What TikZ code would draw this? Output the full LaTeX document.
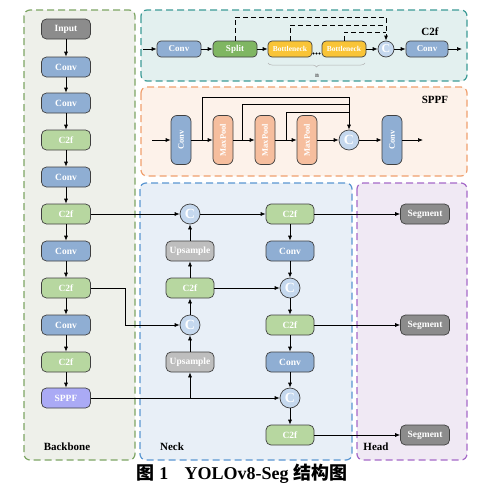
\documentclass[tikz,border=0pt]{standalone}
\usepackage{graphicx}
\usepackage{fontspec}
\setmainfont{Liberation Serif}
\newfontfamily\cjk{Noto Sans CJK SC}
\usetikzlibrary{arrows.meta,decorations.pathreplacing}
\definecolor{convc}{HTML}{8FAED3}
\definecolor{c2fc}{HTML}{B7D7A0}
\definecolor{splitc}{HTML}{7FB662}
\definecolor{bnc}{HTML}{F9C437}
\definecolor{mpc}{HTML}{F6BE9E}
\definecolor{sppfc}{HTML}{AAAAF5}
\definecolor{upc}{HTML}{BEBEBE}
\definecolor{grayc}{HTML}{8C8C8C}
\definecolor{catc}{HTML}{C5D8EE}
\definecolor{bbfill}{HTML}{EEF0EA}
\definecolor{bbline}{HTML}{7DA564}
\definecolor{cffill}{HTML}{E3F0EF}
\definecolor{cfline}{HTML}{3C9B96}
\definecolor{spfill}{HTML}{FDF2EA}
\definecolor{spline}{HTML}{F0A06E}
\definecolor{nkfill}{HTML}{E8EFF7}
\definecolor{nkline}{HTML}{5A96D2}
\definecolor{hdfill}{HTML}{F0E9F4}
\definecolor{hdline}{HTML}{A569C8}
\tikzset{
  blk/.style={draw=black!75, line width=0.7pt, rounded corners=5pt, minimum width=49pt, minimum height=20pt, inner sep=1pt, text=white, font=\bfseries\fontsize{9.5}{10}\selectfont},
  sm/.style={blk, minimum width=44pt, minimum height=16pt, rounded corners=4pt, font=\bfseries\fontsize{9}{9}\selectfont},
  vert/.style={blk, minimum width=20pt, minimum height=49pt, rounded corners=6pt, font=\bfseries\fontsize{8.5}{9}\selectfont},
  cat/.style={circle, draw=black!75, line width=0.7pt, fill=catc, minimum size=20pt, inner sep=0pt, text=white, font=\bfseries\fontsize{14}{14}\selectfont},
  arr/.style={-{Latex[length=5pt,width=4pt]}, line width=0.7pt},
  ln/.style={line width=0.7pt},
  dsh/.style={line width=0.9pt, dash pattern=on 5pt off 3pt},
  region/.style={rounded corners=6pt, line width=1.2pt, dash pattern=on 7pt off 4pt},
  lbl/.style={font=\bfseries\fontsize{11}{12}\selectfont, text=black},
}
\begin{document}
\begin{tikzpicture}[x=1pt,y=-1pt]
\useasboundingbox (0,0) rectangle (480,485);
\fill[white] (0,0) rectangle (480,485);
% regions
\draw[region, draw=bbline, fill=bbfill] (24,10) rectangle (135,460);
\draw[region, draw=cfline, fill=cffill] (141,10) rectangle (467,81);
\draw[region, draw=spline, fill=spfill] (141,87) rectangle (467,176);
\draw[region, draw=nkline, fill=nkfill] (140,183) rectangle (352,460);
\draw[region, draw=hdline, fill=hdfill] (357,183) rectangle (467,460);
% labels
\node[lbl] (lbb) at (67,447) {Backbone};
\node[lbl] (lnk) at (172,447) {Neck};
\node[lbl] (lhd) at (376,447) {Head};
\node[lbl] (lcf) at (430,32) {C2f};
\node[lbl] (lsp) at (435,100) {SPPF};
% backbone
\node[blk, fill=grayc] (b0) at (66,29) {Input};
\node[blk, fill=convc] (b1) at (66,67) {Conv};
\node[blk, fill=convc] (b2) at (66,103) {Conv};
\node[blk, fill=c2fc] (b3) at (66,140) {C2f};
\node[blk, fill=convc] (b4) at (66,177) {Conv};
\node[blk, fill=c2fc] (b5) at (66,214) {C2f};
\node[blk, fill=convc] (b6) at (66,251) {Conv};
\node[blk, fill=c2fc] (b7) at (66,288) {C2f};
\node[blk, fill=convc] (b8) at (66,325) {Conv};
\node[blk, fill=c2fc] (b9) at (66,362) {C2f};
\node[blk, fill=sppfc] (b10) at (66,398) {SPPF};
\foreach \a/\b in {b0/b1,b1/b2,b2/b3,b3/b4,b4/b5,b5/b6,b6/b7,b7/b8,b8/b9,b9/b10}
  \draw[arr] (\a) -- (\b);
% neck
\node[cat] (c1) at (190,214) {C};
\node[blk, fill=upc, minimum width=48pt] (u1) at (190,251) {Upsample};
\node[blk, fill=c2fc, minimum width=48pt] (n1) at (190,288) {C2f};
\node[cat] (c2) at (190,325) {C};
\node[blk, fill=upc, minimum width=48pt] (u2) at (190,362) {Upsample};
\node[blk, fill=c2fc, minimum width=48pt] (n2) at (290,214) {C2f};
\node[blk, fill=convc, minimum width=48pt] (n3) at (290,251) {Conv};
\node[cat] (c3) at (290,288) {C};
\node[blk, fill=c2fc, minimum width=48pt] (n4) at (290,325) {C2f};
\node[blk, fill=convc, minimum width=48pt] (n5) at (290,362) {Conv};
\node[cat] (c4) at (290,398) {C};
\node[blk, fill=c2fc, minimum width=48pt] (n6) at (290,435) {C2f};
% head
\node[blk, fill=grayc] (s1) at (425,214) {Segment};
\node[blk, fill=grayc] (s2) at (425,325) {Segment};
\node[blk, fill=grayc] (s3) at (425,435) {Segment};
% neck connections
\draw[arr] (b5) -- (c1);
\draw[arr] (c1) -- (n2);
\draw[arr] (u1) -- (c1);
\draw[arr] (n1) -- (u1);
\draw[arr] (c2) -- (n1);
\coordinate (k1) at (125,288);
\draw[arr] (b7.east) -- (k1) |- (c2.west);
\draw[arr] (b10) -- (c4);
\coordinate (k2) at (190,398);
\draw[arr] (k2) -- (u2);
\draw[arr] (u2) -- (c2);
\draw[arr] (n1) -- (c3);
\foreach \a/\b in {n2/n3,n3/c3,c3/n4,n4/n5,n5/c4,c4/n6,n2/s1,n4/s2,n6/s3}
  \draw[arr] (\a) -- (\b);
% C2f detail
\coordinate (t0) at (143,49);
\node[sm, fill=convc] (tconv) at (179,49) {Conv};
\node[sm, fill=splitc] (split) at (235,49) {Split};
\node[sm, fill=bnc, font=\bfseries\fontsize{7.5}{8}\selectfont] (bn1) at (290,49) {Bottleneck};
\node[sm, fill=bnc, font=\bfseries\fontsize{7.5}{8}\selectfont] (bn2) at (344,49) {Bottleneck};
\node[cat, minimum size=16pt, font=\bfseries\fontsize{12}{12}\selectfont] (tc) at (386,49) {C};
\node[sm, fill=convc, minimum width=42pt] (tconv2) at (427,49) {Conv};
\coordinate (t1) at (462,49);
\foreach \a/\b in {t0/tconv,tconv/split,split/bn1,bn2/tc,tc/tconv2,tconv2/t1}
  \draw[arr] (\a) -- (\b);
\foreach \x in {313.5,316.5,319.5} \fill (\x,53.5) circle (1.1pt);
\coordinate (d1) at (235,17);
\coordinate (d2) at (386,17);
\draw[arr, dsh] (split.north) -- (d1) -- (d2) -- (tc.north);
\coordinate (e1) at (290,25);
\coordinate (e2) at (386,25);
\draw[dsh] (bn1.north) -- (e1) -- (e2);
\coordinate (f1) at (344,32);
\coordinate (f2) at (386,32);
\draw[dsh] (bn2.north) -- (f1) -- (f2);
\draw[decorate, decoration={brace, mirror, amplitude=4pt}, draw=gray!60, line width=0.5pt] (268,63) -- (365,63);
\node[font=\bfseries\fontsize{7}{8}\selectfont, text=gray!70!black] (nn) at (317,76) {n};
% SPPF detail
\coordinate (p0) at (152,140);
\node[vert, fill=convc] (pconv) at (181,140) {\rotatebox{90}{Conv}};
\node[vert, fill=mpc] (mp1) at (223,140) {\rotatebox{90}{MaxPool}};
\node[vert, fill=mpc] (mp2) at (265,140) {\rotatebox{90}{MaxPool}};
\node[vert, fill=mpc] (mp3) at (307,140) {\rotatebox{90}{MaxPool}};
\node[cat] (pc) at (349,140) {C};
\node[vert, fill=convc] (pconv2) at (392,140) {\rotatebox{90}{Conv}};
\coordinate (p1) at (423,140);
\foreach \a/\b in {p0/pconv,pconv/mp1,mp1/mp2,mp2/mp3,mp3/pc,pc/pconv2,pconv2/p1}
  \draw[arr] (\a) -- (\b);
\coordinate (q1) at (202,140);
\coordinate (q1a) at (202,97);
\coordinate (q1b) at (349,97);
\draw[arr] (q1) -- (q1a) -- (q1b) -- (pc.north);
\coordinate (q2) at (242,140);
\coordinate (q2a) at (242,104);
\coordinate (q2b) at (349,104);
\draw[ln] (q2) -- (q2a) -- (q2b);
\coordinate (q3) at (286,140);
\coordinate (q3a) at (286,112);
\coordinate (q3b) at (349,112);
\draw[ln] (q3) -- (q3a) -- (q3b);
% caption
\node[font=\bfseries\fontsize{18}{19}\selectfont] (cap) at (242,474) {{\cjk 图} 1\hspace{0.9em}YOLOv8-Seg {\cjk 结构图}};
\end{tikzpicture}
\end{document}
